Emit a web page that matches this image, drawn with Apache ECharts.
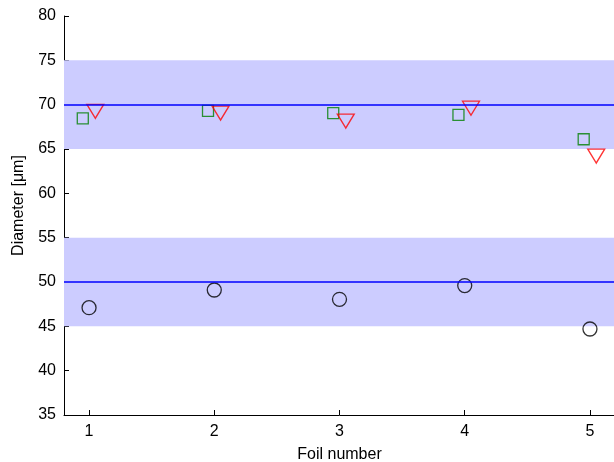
<!DOCTYPE html>
<html>
<head>
<meta charset="utf-8">
<script src="https://cdn.jsdelivr.net/npm/echarts@6/dist/echarts.min.js"></script>
<style>html,body{margin:0;padding:0;background:#fff}#c{width:614px;height:462px}</style>
</head>
<body>
<div id="c"></div>
<script>
var foilTicks = [1, 2, 3, 4, 5];
var squareX = [0.95, 1.95, 2.95, 3.95, 4.95];
var squareY = [68.45, 69.3, 69.05, 68.85, 66.1];
var triangleX = [1.05, 2.05, 3.05, 4.05, 5.05];
var triangleY = [69.25, 69.05, 68.15, 69.6, 64.2];
var circleX = [1, 2, 3, 4, 5];
var circleY = [47.1, 49.1, 48.05, 49.6, 44.7];
var bands = [[65, 75], [45, 55]];
var refLines = [70, 50];

function pairs(xs, ys) { return xs.map(function (x, i) { return [x, ys[i]]; }); }

var font = 'Liberation Sans, Arial, Helvetica, sans-serif';
var chart = echarts.init(document.getElementById('c'), null, { renderer: 'canvas' });
chart.setOption({
  animation: false,
  backgroundColor: '#fff',
  grid: { left: 64, top: 16, width: 551, height: 399, containLabel: false, outerBoundsMode: 'none' },
  xAxis: {
    type: 'value', min: 0.8, max: 5.2,
    name: 'Foil number', nameLocation: 'middle', nameGap: 32,
    nameTextStyle: { color: '#000', fontSize: 16, fontFamily: font },
    axisLine: { show: true, onZero: false, lineStyle: { color: '#000', width: 1 } },
    axisTick: { show: true, inside: true, length: 5, customValues: foilTicks, lineStyle: { color: '#000' } },
    axisLabel: { show: true, customValues: foilTicks, color: '#000', fontSize: 16, fontFamily: font, margin: 9 },
    splitLine: { show: false }
  },
  yAxis: {
    type: 'value', min: 35, max: 80, interval: 5,
    name: 'Diameter [\u03bcm]', nameLocation: 'middle', nameGap: 37,
    nameTextStyle: { color: '#000', fontSize: 16, fontFamily: font, padding: [0, 0, 0, 20] },
    axisLine: { show: true, onZero: false, lineStyle: { color: '#000', width: 1 } },
    axisTick: { show: true, inside: true, length: 5, lineStyle: { color: '#000' } },
    axisLabel: { color: '#000', fontSize: 16, fontFamily: font, margin: 8 },
    splitLine: { show: false }
  },
  series: [
    {
      type: 'scatter', data: [], z: 1, silent: true,
      markArea: {
        silent: true,
        itemStyle: { color: '#ccccff', opacity: 1 },
        data: bands.map(function (b) { return [{ yAxis: b[0] }, { yAxis: b[1] }]; })
      },
      markLine: {
        silent: true, symbol: ['none', 'none'], label: { show: false },
        lineStyle: { color: '#0000ff', width: 1.5, type: 'solid' },
        data: refLines.map(function (v) { return { yAxis: v }; })
      }
    },
    {
      type: 'scatter', z: 3, data: pairs(squareX, squareY),
      symbol: 'rect', symbolSize: 11,
      itemStyle: { color: 'rgba(0,0,0,0)', borderColor: '#008000', borderWidth: 1.3 }
    },
    {
      type: 'scatter', z: 3, data: pairs(triangleX, triangleY),
      symbol: 'triangle', symbolRotate: 180, symbolSize: [17, 14],
      itemStyle: { color: 'rgba(0,0,0,0)', borderColor: '#ff0000', borderWidth: 1.3 }
    },
    {
      type: 'scatter', z: 3, data: pairs(circleX, circleY),
      symbol: 'circle', symbolSize: 14,
      itemStyle: { color: 'rgba(0,0,0,0)', borderColor: '#000', borderWidth: 1.3 }
    }
  ]
});
</script>
</body>
</html>
